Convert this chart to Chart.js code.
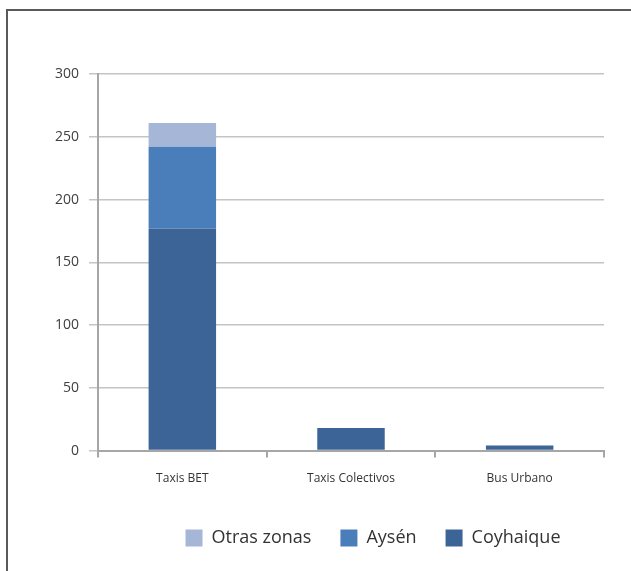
<!DOCTYPE html>
<html>
<head>
<meta charset="utf-8">
<script src="https://cdn.jsdelivr.net/npm/chart.js@4.4.1/dist/chart.umd.min.js"></script>
<style>
  html, body { margin: 0; padding: 0; background: #fff; }
  #wrap { position: relative; width: 631px; height: 571px; }
  #frame { position: absolute; left: 6px; top: 9px; right: 0; bottom: 0;
           border-left: 2px solid #5a5a5a; border-top: 2px solid #5a5a5a; }
  #chart1 { position: absolute; left: 0; top: 0; }
</style>
</head>
<body>
<div id="wrap">
  <div id="frame"></div>
  <canvas id="chart1" width="631" height="571"></canvas>
</div>
<script>
// categories and values
const categories = ['Taxis BET', 'Taxis Colectivos', 'Bus Urbano'];
const coyhaique = [177, 18, 4];
const aysen = [65, 0, 0];
const otrasZonas = [19, 0, 0];

const fontFamily = '"Open Sans", "Noto Sans", sans-serif';

// nudge legend to the right, like the original
const shiftLegend = {
    id: 'shiftLegend',
    afterLayout(chart) {
        chart.legend.left += 22;
        chart.legend.right += 22;
    }
};

const ctx = document.getElementById('chart1');

const data = {
    labels: categories,
    datasets: [
        {
            label: 'Coyhaique',
            data: coyhaique,
            backgroundColor: '#3C6496'
        },
        {
            label: 'Aysén',
            data: aysen,
            backgroundColor: '#4A7EBB'
        },
        {
            label: 'Otras zonas',
            data: otrasZonas,
            backgroundColor: '#A5B6D6'
        }
    ]
};

const config = {
    type: 'bar',
    data: data,
    plugins: [shiftLegend],
    options: {
        responsive: false,
        animation: false,
        barPercentage: 0.4,
        categoryPercentage: 1,
        layout: {
            padding: { top: 74, right: 27, left: 0, bottom: 14 }
        },
        plugins: {
            tooltip: { enabled: false },
            legend: {
                position: 'bottom',
                fullSize: false,
                reverse: true,
                labels: {
                    boxWidth: 17,
                    boxHeight: 17,
                    padding: 29,
                    color: '#333',
                    font: { family: fontFamily, size: 18 }
                }
            }
        },
        scales: {
            x: {
                stacked: true,
                grid: {
                    offset: true,
                    drawOnChartArea: false,
                    tickLength: 7,
                    color: '#a6a6a6',
                    lineWidth: 2
                },
                border: { color: '#a6a6a6', width: 2 },
                ticks: {
                    padding: 14,
                    color: '#333',
                    font: { family: fontFamily, size: 12 }
                }
            },
            y: {
                stacked: true,
                min: 0,
                max: 300,
                afterFit(scale) { scale.width = 98; },
                grid: {
                    tickLength: 9,
                    color: '#c4c4c4',
                    lineWidth: 1.5
                },
                border: { color: '#a6a6a6', width: 2 },
                ticks: {
                    stepSize: 50,
                    padding: 10,
                    color: '#404040',
                    font: { family: fontFamily, size: 14 }
                }
            }
        }
    }
};

let chart = new Chart(ctx, config);
</script>
</body>
</html>
